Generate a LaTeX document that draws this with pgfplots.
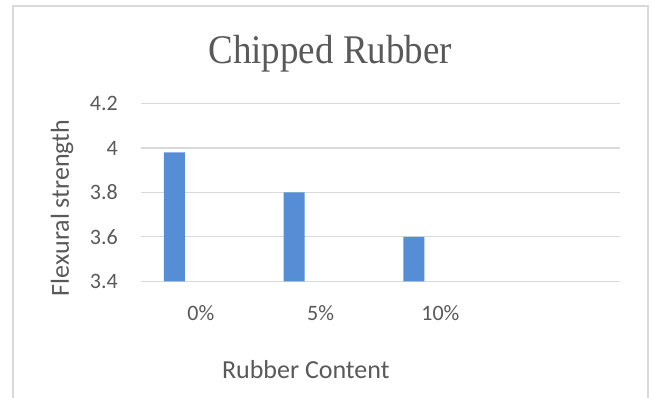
\documentclass[border=0pt]{standalone}
\usepackage{pgfplots}
\pgfplotsset{compat=1.18}
\usepackage{fontspec}
\setmainfont{Carlito}
\newfontfamily\titlefont{Liberation Serif}
\definecolor{barblue}{RGB}{86,142,214}
\definecolor{txtgray}{RGB}{89,89,89}
\definecolor{gridgray}{RGB}{217,217,217}
\begin{document}
\begin{tikzpicture}
\path[use as bounding box] (0,0) rectangle (651pt,398pt);
\draw[gridgray, line width=1.5pt] (13pt,-2pt) -- (13pt,392pt) -- (648pt,392pt) -- (648pt,-2pt);
\begin{axis}[
  at={(141pt,116.7pt)}, anchor=south west,
  scale only axis, width=479pt, height=177.8pt,
  xmin=-0.5, xmax=3.5, ymin=3.4, ymax=4.2,
  ytick={3.4,3.6,3.8,4.0,4.2},
  yticklabels={3.4,3.6,3.8,4,4.2},
  xtick={0,1,2}, xticklabels={0\%,5\%,10\%},
  ymajorgrids, grid style={gridgray, line width=1.3pt},
  axis line style={draw=none}, major tick length=0pt,
  /pgf/number format/assume math mode=true,
  tick label style={txtgray, font=\fontsize{22}{26}\selectfont},
  xticklabel style={anchor=base, inner sep=0pt, yshift=-39pt},
  yticklabel style={anchor=east, inner sep=0pt, xshift=-23pt},
  title={\scalebox{1}[1.1]{\titlefont Chipped Rubber}},
  title style={at={(0.395,1.194)}, anchor=base, inner sep=0pt, txtgray, font=\fontsize{37}{42}\selectfont},
  xlabel={Rubber Content},
  xlabel style={at={(0.344,-0.544)}, anchor=base, inner sep=0pt, txtgray, font=\fontsize{26}{30}\selectfont},
  ylabel={Flexural strength},
  ylabel style={at={(-0.165,0.412)}, anchor=center, rotate=0, inner sep=0pt, txtgray, font=\fontsize{26}{30}\selectfont},
  clip=false,
]
\addplot[ybar, bar width=21pt, bar shift=-26.5pt, fill=barblue, draw=none] coordinates {(0,3.98) (1,3.80) (2,3.60)};
\end{axis}
\end{tikzpicture}
\end{document}
